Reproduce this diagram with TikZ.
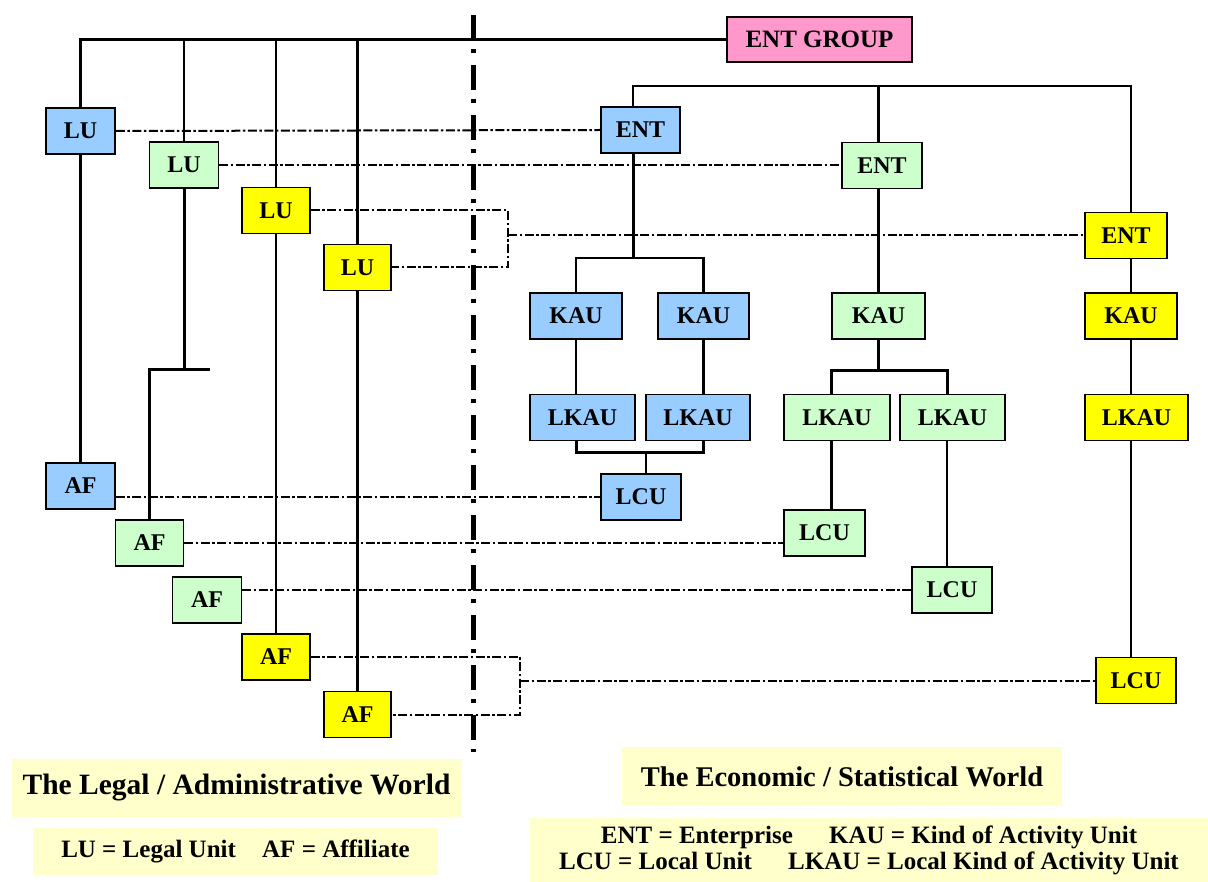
\documentclass[tikz,border=0pt]{standalone}
\usepackage{fontspec}
\setmainfont{Liberation Serif}
\usetikzlibrary{calc}
\pgfdeclarelayer{paper}
\pgfdeclarelayer{bg}
\pgfsetlayers{paper,bg,main}
\definecolor{ublue}{HTML}{99CCFF}
\definecolor{ugreen}{HTML}{CCFFCC}
\definecolor{uyellow}{HTML}{FFFF00}
\definecolor{upink}{HTML}{FF99CC}
\definecolor{labelbg}{HTML}{FFFFCC}
\tikzset{
  unit/.style={draw=black, line width=1.8pt, minimum height=46pt, inner sep=0pt,
    font=\bfseries\fontsize{24}{28}\selectfont},
  bluebox/.style={unit, fill=ublue},
  greenbox/.style={unit, fill=ugreen},
  yellowbox/.style={unit, fill=uyellow},
  link/.style={line width=2.2pt, line cap=rect},
  heavylink/.style={line width=3pt, line cap=rect},
  relation/.style={line width=2pt, dash pattern=on 9pt off 2.5pt on 2.5pt off 2.5pt},
  divider/.style={line width=5pt, dash pattern=on 25pt off 9pt on 4pt off 12pt},
  caption/.style={fill=labelbg, inner sep=0pt},
}
\begin{document}
\begin{tikzpicture}[x=1pt, y=-1pt]
\useasboundingbox (0,0) rectangle (1208,882);
\begin{pgfonlayer}{paper}
  \fill[white] (0,0) rectangle (1208,882);
\end{pgfonlayer}

% group
\node[unit, fill=upink, minimum width=185pt, minimum height=45pt, font=\bfseries\fontsize{25}{28}\selectfont] (eg) at (819.5,39.5) {ENT GROUP};

% legal units
\node[bluebox,   minimum width=69pt] (lu1) at (80.5,131) {LU};
\node[greenbox,  minimum width=69pt] (lu2) at (184,165) {LU};
\node[yellowbox, minimum width=68pt] (lu3) at (276,210.5) {LU};
\node[yellowbox, minimum width=67pt] (lu4) at (357.5,267.5) {LU};

% affiliates
\node[bluebox,   minimum width=69pt] (afb)  at (80.5,486) {AF};
\node[greenbox,  minimum width=68pt] (afg1) at (149.5,543) {AF};
\node[greenbox,  minimum width=69pt] (afg2) at (207,600) {AF};
\node[yellowbox, minimum width=68pt] (afy1) at (276,657) {AF};
\node[yellowbox, minimum width=67pt] (afy2) at (357.5,714.5) {AF};

% enterprises
\node[bluebox,   minimum width=79pt] (entb) at (640.5,130) {ENT};
\node[greenbox,  minimum width=80pt] (entg) at (882,165.5) {ENT};
\node[yellowbox, minimum width=82pt] (enty) at (1126,235.5) {ENT};

% kinds of activity units
\node[bluebox,   minimum width=92pt] (kaub1) at (576,316) {KAU};
\node[bluebox,   minimum width=91pt] (kaub2) at (703.5,316) {KAU};
\node[greenbox,  minimum width=93pt] (kaug)  at (878.5,316) {KAU};
\node[yellowbox, minimum width=92pt] (kauy)  at (1131,316) {KAU};

% local kinds of activity units
\node[bluebox,   minimum width=105pt] (lkaub1) at (582.5,417.5) {LKAU};
\node[bluebox,   minimum width=104pt] (lkaub2) at (698,417.5) {LKAU};
\node[greenbox,  minimum width=106pt] (lkaug1) at (837,417.5) {LKAU};
\node[greenbox,  minimum width=105pt] (lkaug2) at (952.5,417.5) {LKAU};
\node[yellowbox, minimum width=103pt] (lkauy)  at (1136.5,417.5) {LKAU};

% local units
\node[bluebox,   minimum width=80pt] (lcub)  at (641,497) {LCU};
\node[greenbox,  minimum width=81pt] (lcug1) at (824.5,533) {LCU};
\node[greenbox,  minimum width=80pt] (lcug2) at (952,590) {LCU};
\node[yellowbox, minimum width=80pt] (lcuy)  at (1136,680.5) {LCU};

% captions
\node[caption, minimum width=450pt, minimum height=58pt, font=\bfseries\fontsize{29.5}{34}\selectfont] (legal) at (236.5,788) {The Legal / Administrative World};
\node[caption, minimum width=405pt, minimum height=47pt, font=\bfseries\fontsize{25}{28}\selectfont] (legalkey) at (235.5,851.5) {LU = Legal Unit\hspace{0.8em} AF = Affiliate};
\node[caption, minimum width=440pt, minimum height=59pt, font=\bfseries\fontsize{28.5}{34}\selectfont] (econ) at (842,776.5) {The Economic / Statistical World};
\node[caption, minimum width=678pt, minimum height=65pt, align=center, font=\bfseries\fontsize{25}{26}\selectfont] (econkey) at (869,850)
  {ENT = Enterprise\hspace{1.2em} KAU = Kind of Activity Unit\\LCU = Local Unit\hspace{1.2em} LKAU = Local Kind of Activity Unit};

% junction points
\coordinate (lusplit) at (184,370);
\coordinate (lustub)  at (208,370);
\coordinate (rtop)    at (633,86);
\coordinate (bsplit)  at (633,258);
\coordinate (bjoin)   at (646,453);
\coordinate (gsplit)  at (878.5,371);
\coordinate (gl)      at (831,371);
\coordinate (gr)      at (947,371);
\coordinate (yx)      at (1131,0);
\coordinate (ltbr)    at (508,0);
\coordinate (afbr)    at (520,0);
\coordinate (dtop)    at (473,15);
\coordinate (dbot)    at (473,752);

\begin{pgfonlayer}{bg}
  % legal side ownership lines
  \draw[link] (eg.west) -| (lu1.north);
  \draw[link] (lu2.north |- eg.west) -- (lu2.north);
  \draw[link] (lu3.north |- eg.west) -- (lu3.north);
  \draw[link] (lu4.north |- eg.west) -- (lu4.north);
  \draw[link] (lu1.south) -- (afb.north);
  \draw[heavylink] (lu2.south) -- (lusplit);
  \draw[heavylink] (afg1.north) |- (lustub);
  \draw[link] (lu3.south) -- (afy1.north);
  \draw[link] (lu4.south) -- (afy2.north);

  % enterprise branches
  \draw[link] (rtop |- entb.north) -- (rtop) -| (yx |- enty.north);
  \draw[link] (kaug.north |- rtop) -- (kaug.north |- entg.north);
  \draw[heavylink] (rtop |- entb.south) -- (bsplit);
  \draw[link] (kaub1.north) |- (bsplit) -| (kaub2.north);
  \draw[link] (kaub1.south) -- (kaub1.south |- lkaub1.north);
  \draw[link] (kaub2.south) -- (kaub2.south |- lkaub2.north);
  \draw[heavylink] (kaub1.south |- lkaub1.south) |- (bjoin) -| (kaub2.south |- lkaub2.south);
  \draw[link] (bjoin) -- (bjoin |- lcub.north);

  \draw[link] (kaug.north |- entg.south) -- (kaug.north);
  \draw[link] (kaug.south) -- (gsplit);
  \draw[heavylink] (gl |- lkaug1.north) -- (gl) -- (gr) -- (gr |- lkaug2.north);
  \draw[heavylink] (gl |- lkaug1.south) -- (gl |- lcug1.north);
  \draw[link] (gr |- lkaug2.south) -- (gr |- lcug2.north);

  \draw[link] (yx |- enty.south) -- (yx |- kauy.north);
  \draw[link] (yx |- kauy.south) -- (yx |- lkauy.north);
  \draw[link] (yx |- lkauy.south) -- (yx |- lcuy.north);

  % legal to statistical correspondences
  \draw[relation] (lu1.east) -- (entb.west);
  \draw[relation] (lu2.east) -- (lu2.east -| entg.west);
  \draw[relation] (lu3.east) -- (ltbr |- lu3.east) -- (ltbr |- lu4.east) -- (lu4.east);
  \draw[relation] (ltbr |- enty.west) -- (enty.west);
  \draw[relation] (afb.east |- lcub.west) -- (lcub.west);
  \draw[relation] (afg1.east) -- (lcug1.west |- afg1.east);
  \draw[relation] (afg2.east |- lcug2.west) -- (lcug2.west);
  \draw[relation] (afy1.east) -- (afbr |- afy1.east) -- (afbr |- afy2.east) -- (afy2.east);
  \draw[relation] (afbr |- lcuy.west) -- (lcuy.west);

  % boundary between the two worlds
  \draw[divider] (dtop) -- (dbot);
\end{pgfonlayer}
\end{tikzpicture}
\end{document}
